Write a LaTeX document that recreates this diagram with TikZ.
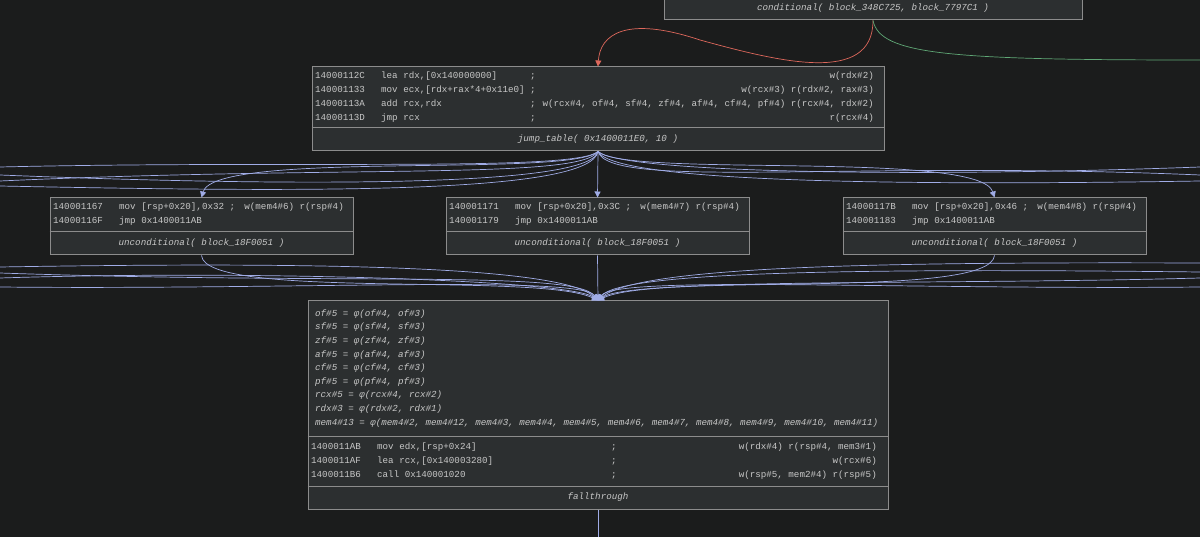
\documentclass[tikz,border=0pt]{standalone}
\usepackage{fontspec}
\setmonofont{Liberation Mono}
\usetikzlibrary{arrows.meta}
\definecolor{bgcol}{RGB}{27,28,28}
\definecolor{boxfill}{RGB}{44,47,48}
\definecolor{boxedge}{RGB}{140,140,140}
\definecolor{txt}{RGB}{200,200,200}
\definecolor{edgeblue}{RGB}{160,172,230}
\definecolor{edgered}{RGB}{222,104,92}
\definecolor{edgegreen}{RGB}{96,168,118}
\tikzset{
  block/.style={draw=boxedge, fill=boxfill, line width=1pt, inner sep=0pt},
  divider/.style={draw=boxedge, line width=1pt},
  asm/.style={anchor=west, inner sep=0pt, text=txt, text height=6.5pt, text depth=2pt,
    font=\ttfamily\fontsize{9.2}{11}\selectfont},
  cmt/.style={asm, anchor=east},
  phi/.style={asm, font=\ttfamily\itshape\fontsize{9.2}{11}\selectfont},
  foot/.style={phi, anchor=center},
  flow/.style={draw=edgeblue, line width=0.7pt},
  flowarr/.style={flow, -{Triangle[length=6pt,width=6pt]}},
}
\begin{document}
\begin{tikzpicture}[x=1pt,y=-1pt]
\useasboundingbox (0,0) rectangle (1200,537);
\fill[bgcol] (0,0) rectangle (1200,537);
% blocks
\node[block, minimum width=418pt, minimum height=60pt] (cond) at (873,-10) {};
\node[block, minimum width=572pt, minimum height=84pt] (jt) at (598,109) {};
\node[block, minimum width=303pt, minimum height=57pt] (ua) at (201.5,226.5) {};
\node[block, minimum width=303pt, minimum height=57pt] (ub) at (597.5,226.5) {};
\node[block, minimum width=303pt, minimum height=57pt] (uc) at (994.5,226.5) {};
\node[block, minimum width=580pt, minimum height=208pt] (ud) at (598,405) {};
\foreach \b in {cond,jt,ua,ub,uc}
  \draw[divider] ([yshift=24pt]\b.south west) -- ([yshift=24pt]\b.south east);
\draw[divider] ([yshift=23pt]ud.south west) -- ([yshift=23pt]ud.south east);
\draw[divider] ([yshift=73pt]ud.south west) -- ([yshift=73pt]ud.south east);
% free ends
\coordinate (jl1) at (0,167);
\coordinate (jl2) at (0,175);
\coordinate (jl3) at (0,181);
\coordinate (jl4) at (0,186);
\coordinate (jr1) at (1200,167);
\coordinate (jr2) at (1200,175);
\coordinate (jr3) at (1200,181);
\coordinate (dl1) at (0,267);
\coordinate (dl2) at (0,273);
\coordinate (dl3) at (0,278);
\coordinate (dl4) at (0,287);
\coordinate (dr1) at (1200,263);
\coordinate (dr2) at (1200,272);
\coordinate (dr3) at (1200,278);
\coordinate (dr4) at (1200,287);
\coordinate (gout) at (1200,60);
\coordinate (dout) at (598,537);
% conditional edges
\draw[edgered, line width=0.7pt, -{Triangle[length=6pt,width=6pt]}] (cond.south) .. controls (873,85) and (780,62) .. (700,40) .. controls (625,15) and (600,35) .. (jt.north);
\draw[edgegreen, line width=0.7pt] (cond.south) .. controls (880,55) and (950,60) .. (gout);
% jump table edges
\draw[flowarr] (jt.south) .. controls (570,178) and (215,150) .. (ua.north);
\draw[flowarr] (jt.south) -- (ub.north);
\draw[flowarr] (jt.south) .. controls (626,178) and (980,150) .. (uc.north);
\draw[flow] (jt.south) .. controls (575,172) and (300,160) .. (jl1);
\draw[flow] (jt.south) .. controls (590,190) and (250,185) .. (jl2);
\draw[flow] (jt.south) .. controls (580,180) and (350,165) .. (jl3);
\draw[flow] (jt.south) .. controls (590,195) and (300,192) .. (jl4);
\draw[flow] (jt.south) .. controls (620,172) and (900,178) .. (jr1);
\draw[flow] (jt.south) .. controls (610,190) and (850,160) .. (jr2);
\draw[flow] (jt.south) .. controls (615,185) and (950,185) .. (jr3);
% merge edges
\draw[flowarr] (ua.south) .. controls (205,300) and (540,272) .. (ud.north);
\draw[flowarr] (ub.south) -- (ud.north);
\draw[flowarr] (uc.south) .. controls (990,300) and (656,272) .. (ud.north);
\draw[flowarr] (dl1) .. controls (300,262) and (560,265) .. (ud.north);
\draw[flowarr] (dl2) .. controls (350,285) and (575,270) .. (ud.north);
\draw[flowarr] (dl3) .. controls (250,270) and (570,280) .. (ud.north);
\draw[flowarr] (dl4) .. controls (300,290) and (580,275) .. (ud.north);
\draw[flowarr] (dr1) .. controls (900,262) and (640,265) .. (ud.north);
\draw[flowarr] (dr2) .. controls (850,268) and (620,272) .. (ud.north);
\draw[flowarr] (dr3) .. controls (950,285) and (630,278) .. (ud.north);
\draw[flowarr] (dr4) .. controls (900,290) and (615,275) .. (ud.north);
\draw[flow] (ud.south) -- (dout);
% conditional block
\node[foot] (condf) at (873,8) {conditional( block\_348C725, block\_7797C1 )};
% jump table block
\node[asm] (jta1) at (315,76) {14000112C};
\node[asm] (jti1) at (381,76) {lea rdx,[0x140000000]};
\node[asm] (jts1) at (530,76) {;};
\node[cmt] (jtc1) at (874,76) {w(rdx\#2)};
\node[asm] (jta2) at (315,90) {140001133};
\node[asm] (jti2) at (381,90) {mov ecx,[rdx+rax*4+0x11e0]};
\node[asm] (jts2) at (530,90) {;};
\node[cmt] (jtc2) at (874,90) {w(rcx\#3) r(rdx\#2, rax\#3)};
\node[asm] (jta3) at (315,104) {14000113A};
\node[asm] (jti3) at (381,104) {add rcx,rdx};
\node[asm] (jts3) at (530,104) {;};
\node[cmt] (jtc3) at (874,104) {w(rcx\#4, of\#4, sf\#4, zf\#4, af\#4, cf\#4, pf\#4) r(rcx\#4, rdx\#2)};
\node[asm] (jta4) at (315,118) {14000113D};
\node[asm] (jti4) at (381,118) {jmp rcx};
\node[asm] (jts4) at (530,118) {;};
\node[cmt] (jtc4) at (874,118) {r(rcx\#4)};
\node[foot] (jtf) at (598,139) {jump\_table( 0x1400011E0, 10 )};
% case blocks
\node[asm] (uaa1) at (53,207) {140001167};
\node[asm] (uai1) at (119,207) {mov [rsp+0x20],0x32 ;};
\node[cmt] (uac1) at (344,207) {w(mem4\#6) r(rsp\#4)};
\node[asm] (uaa2) at (53,221) {14000116F};
\node[asm] (uai2) at (119,221) {jmp 0x1400011AB};
\node[foot] (uaf) at (201.5,243) {unconditional( block\_18F0051 )};
\node[asm] (uba1) at (449,207) {140001171};
\node[asm] (ubi1) at (515,207) {mov [rsp+0x20],0x3C ;};
\node[cmt] (ubc1) at (740,207) {w(mem4\#7) r(rsp\#4)};
\node[asm] (uba2) at (449,221) {140001179};
\node[asm] (ubi2) at (515,221) {jmp 0x1400011AB};
\node[foot] (ubf) at (597.5,243) {unconditional( block\_18F0051 )};
\node[asm] (uca1) at (846,207) {14000117B};
\node[asm] (uci1) at (912,207) {mov [rsp+0x20],0x46 ;};
\node[cmt] (ucc1) at (1137,207) {w(mem4\#8) r(rsp\#4)};
\node[asm] (uca2) at (846,221) {140001183};
\node[asm] (uci2) at (912,221) {jmp 0x1400011AB};
\node[foot] (ucf) at (994.5,243) {unconditional( block\_18F0051 )};
% merge block
\foreach \f [count=\k] in {of,sf,zf,af,cf,pf}
  \node[phi] (phi\k) at (315,300.5+13.6*\k) {\f\#5 = φ(\f\#4, \f\#3)};
\node[phi] (phi7) at (315,395.7) {rcx\#5 = φ(rcx\#4, rcx\#2)};
\node[phi] (phi8) at (315,409.3) {rdx\#3 = φ(rdx\#2, rdx\#1)};
\node[phi] (phi9) at (315,422.9) {mem4\#13 = φ(mem4\#2, mem4\#12, mem4\#3, mem4\#4, mem4\#5, mem4\#6, mem4\#7, mem4\#8, mem4\#9, mem4\#10, mem4\#11)};
\node[asm] (uda1) at (311,447) {1400011AB};
\node[asm] (udi1) at (377,447) {mov edx,[rsp+0x24]};
\node[asm] (uds1) at (611,447) {;};
\node[cmt] (udc1) at (877,447) {w(rdx\#4) r(rsp\#4, mem3\#1)};
\node[asm] (uda2) at (311,461) {1400011AF};
\node[asm] (udi2) at (377,461) {lea rcx,[0x140003280]};
\node[asm] (uds2) at (611,461) {;};
\node[cmt] (udc2) at (877,461) {w(rcx\#6)};
\node[asm] (uda3) at (311,475) {1400011B6};
\node[asm] (udi3) at (377,475) {call 0x140001020};
\node[asm] (uds3) at (611,475) {;};
\node[cmt] (udc3) at (877,475) {w(rsp\#5, mem2\#4) r(rsp\#5)};
\node[foot] (udf) at (598,497) {fallthrough};
\end{tikzpicture}
\end{document}
